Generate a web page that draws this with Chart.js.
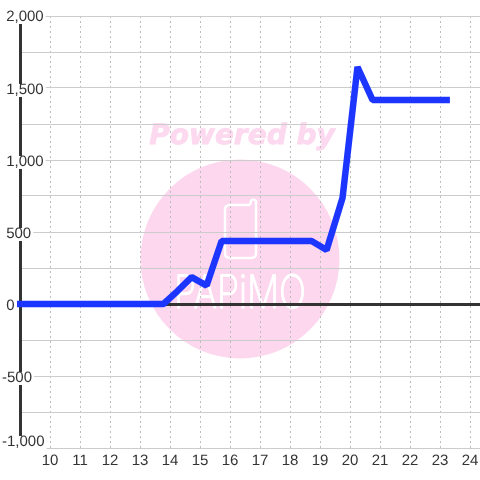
<!DOCTYPE html>
<html>
<head>
<meta charset="utf-8">
<style>
  html, body { margin: 0; padding: 0; background: #fff; }
  canvas { display: block; }
</style>
<script src="https://cdn.jsdelivr.net/npm/chart.js@4/dist/chart.umd.min.js"></script>
</head>
<body>
<canvas id="chart" width="480" height="480"></canvas>
<script>
// data
const hours = [8.9, 9.75, 10.25, 10.75, 11.25, 11.75, 12.25, 12.75, 13.25, 13.78, 14.25, 14.72, 15.22, 15.72, 16.25, 16.75, 17.25, 17.75, 18.25, 18.72, 19.22, 19.75, 20.25, 20.75, 21.25, 21.75, 22.25, 22.75, 23.33];
const values = [0, 0, 0, 0, 0, 0, 0, 0, 0, 0, 90, 187, 128, 438, 438, 438, 438, 438, 438, 438, 375, 736, 1646, 1417, 1417, 1417, 1417, 1417, 1417];

const xMin = 9;
const xMax = 24.3333;
const yMin = -1000;
const yMax = 2000;
const yStep = 250;
const labelStep = 500;

const TEXT = '#333333';
const GRID = '#cccccc';
const GRID_X = '#bdbdbd';
const LINE = '#1c36ff';

// watermark behind the grid
const watermark = {
  id: 'watermark',
  beforeDraw(chart) {
    const ctx = chart.ctx;
    ctx.textRendering = 'geometricPrecision';
    ctx.save();
    ctx.fillStyle = '#fcd7ee';
    ctx.beginPath();
    ctx.arc(240, 259, 99.5, 0, Math.PI * 2);
    ctx.fill();

    ctx.fillStyle = '#fcd9ef';
    ctx.strokeStyle = '#fcd9ef';
    ctx.lineWidth = 0.8;
    ctx.font = 'italic bold 28px "DejaVu Sans"';
    ctx.textAlign = 'center';
    ctx.textBaseline = 'alphabetic';
    ctx.fillText('Powered by', 242, 144);
    ctx.strokeText('Powered by', 242, 144);

    // phone icon
    ctx.strokeStyle = '#ffffff';
    ctx.lineWidth = 2.5;
    ctx.lineJoin = 'round';
    ctx.beginPath();
    ctx.moveTo(250, 205);
    ctx.lineTo(230, 205);
    ctx.quadraticCurveTo(225, 205, 225, 210);
    ctx.lineTo(225, 253);
    ctx.quadraticCurveTo(225, 258, 230, 258);
    ctx.lineTo(251, 258);
    ctx.quadraticCurveTo(256, 258, 256, 253);
    ctx.lineTo(256, 201);
    ctx.quadraticCurveTo(253, 198, 251, 201);
    ctx.lineTo(250, 205);
    ctx.stroke();

    // logo word
    ctx.fillStyle = '#ffffff';
    ctx.strokeStyle = '#ffffff';
    ctx.lineWidth = 1.2;
    ctx.font = '200 46px Inter';
    ctx.textAlign = 'center';
    ctx.fillText('PAPiMO', 240, 308, 132);
    ctx.strokeText('PAPiMO', 240, 308, 132);
    ctx.restore();
  }
};

// y labels sit a little under their grid lines, the lowest one is pushed up inside the plot
const nudgeLabels = {
  id: 'nudgeLabels',
  beforeDraw(chart) {
    chart.scales.y.getLabelItems().forEach((item) => {
      if (item.label === '') return;
      let dy = 2;
      if (item.label === ' 2,000') dy = 1;
      if (item.label === '-1,000') dy = -6;
      item.options.translation[1] += dy;
    });
  }
};

new Chart(document.getElementById('chart'), {
  type: 'line',
  data: {
    datasets: [{
      data: hours.map((h, i) => ({ x: h, y: values[i] })),
      borderColor: LINE,
      borderWidth: 6.5,
      borderJoinStyle: 'bevel',
      pointRadius: 0,
      tension: 0,
      fill: false,
      clip: false
    }]
  },
  options: {
    responsive: false,
    animation: false,
    layout: { padding: { left: 20, top: 16, right: 0, bottom: 0 } },
    plugins: {
      legend: { display: false },
      title: { display: false },
      tooltip: { enabled: false }
    },
    scales: {
      x: {
        type: 'linear',
        min: xMin,
        max: xMax,
        afterBuildTicks: (scale) => {
          scale.ticks = scale.ticks.filter((t) => t.value > xMin);
        },
        afterFit: (scale) => {
          scale.height = 32;
          scale.paddingLeft = 0;
          scale.paddingRight = 0;
        },
        border: { display: false, dash: [2, 3] },
        grid: { color: GRID_X, lineWidth: 1, drawTicks: false },
        ticks: {
          stepSize: 1,
          includeBounds: false,
          autoSkip: false,
          maxRotation: 0,
          padding: 5,
          color: TEXT,
          font: { family: '"Liberation Sans"', size: 15, lineHeight: '16px' }
        }
      },
      y: {
        min: yMin,
        max: yMax,
        afterFit: (scale) => {
          scale.width = 0;
          scale.paddingTop = 0;
          scale.paddingBottom = 0;
        },
        border: { display: true, color: TEXT, width: 3 },
        grid: {
          drawTicks: false,
          color: (c) => (c.tick.value === 0 ? TEXT : GRID),
          lineWidth: (c) => (c.tick.value === 0 ? 3 : 1)
        },
        ticks: {
          stepSize: yStep,
          autoSkip: false,
          mirror: true,
          padding: -18,
          color: TEXT,
          font: { family: '"Liberation Sans"', size: 15, lineHeight: '16px' },
          showLabelBackdrop: (c) => c.tick.value % labelStep === 0,
          backdropColor: '#ffffff',
          backdropPadding: { top: -2, bottom: -1, left: 0, right: 2 },
          callback: (v) => {
            if (v % labelStep !== 0) return '';
            const s = v.toLocaleString('en-US');
            return v < 0 ? s : ' ' + s;
          }
        }
      }
    }
  },
  plugins: [watermark, nudgeLabels]
});
</script>
</body>
</html>
